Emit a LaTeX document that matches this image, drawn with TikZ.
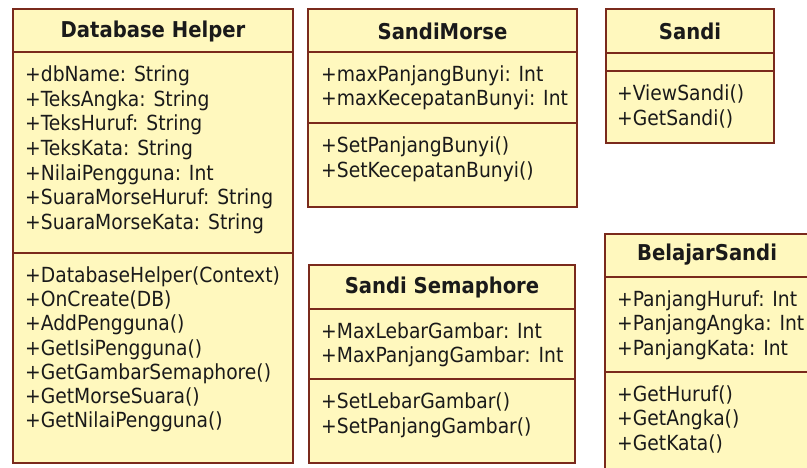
\documentclass[tikz,border=0pt]{standalone}
\usepackage{fontspec}
\setmainfont{DejaVu Sans Condensed}
\definecolor{clsfill}{HTML}{FFF8BE}
\definecolor{clsline}{HTML}{7A2A1C}
\definecolor{clstext}{HTML}{1A1A1A}
\tikzset{
  clsbox/.style={draw=clsline, fill=clsfill, line width=1.8pt},
  clssep/.style={draw=clsline, line width=1.6pt},
  clsname/.style={font=\fontsize{21.8}{26}\selectfont\bfseries, text=clstext, inner sep=0pt},
  member/.style={font=\fontsize{20.8}{25}\selectfont, text=clstext, inner sep=0pt,
    anchor=west, text height=15.6pt, text depth=4.2pt},
}
\begin{document}
\begin{tikzpicture}[x=1pt, y=-1pt]
\useasboundingbox (0,0) rectangle (807,468);
\fill[white] (0,0) rectangle (807,468);
\clip (0,0) rectangle (807,468);

% Database Helper
\draw[clsbox] (13,9) rectangle (293,463);
\draw[clssep] (13,52) -- (293,52);
\draw[clssep] (13,253) -- (293,253);
\node[clsname] (dbname) at (153,31) {Database Helper};
\foreach \t [count=\i] in {+dbName: String, +TeksAngka: String, +TeksHuruf: String,
    +TeksKata: String, +NilaiPengguna: Int, +SuaraMorseHuruf: String, +SuaraMorseKata: String}
  \node[member] (dba\i) at (25,{51.5+24.6*\i}) {\t};
\foreach \t [count=\i] in {+DatabaseHelper(Context), +OnCreate(DB), +AddPengguna(),
    +GetIsiPengguna(), +GetGambarSemaphore(), +GetMorseSuara(), +GetNilaiPengguna()}
  \node[member] (dbm\i) at (25,{252.6+24.2*\i}) {\t};

% SandiMorse
\draw[clsbox] (308,9) rectangle (577,207);
\draw[clssep] (308,52) -- (577,52);
\draw[clssep] (308,123) -- (577,123);
\node[clsname] (smname) at (442.5,31) {SandiMorse};
\node[member] (sma1) at (321,75.5) {+maxPanjangBunyi: Int};
\node[member] (sma2) at (321,100) {+maxKecepatanBunyi: Int};
\node[member] (smm1) at (321,147) {+SetPanjangBunyi()};
\node[member] (smm2) at (321,171.5) {+SetKecepatanBunyi()};

% Sandi
\draw[clsbox] (606,9) rectangle (774,143);
\draw[clssep] (606,53) -- (774,53);
\draw[clssep] (606,71) -- (774,71);
\node[clsname] (sname) at (690,31) {Sandi};
\node[member] (sm1) at (617,95) {+ViewSandi()};
\node[member] (sm2) at (617,119.4) {+GetSandi()};

% Sandi Semaphore
\draw[clsbox] (309,265) rectangle (575,463);
\draw[clssep] (309,309) -- (575,309);
\draw[clssep] (309,379) -- (575,379);
\node[clsname] (ssname) at (442,287) {Sandi Semaphore};
\node[member] (ssa1) at (321,332.5) {+MaxLebarGambar: Int};
\node[member] (ssa2) at (321,357) {+MaxPanjangGambar: Int};
\node[member] (ssm1) at (321,403) {+SetLebarGambar()};
\node[member] (ssm2) at (321,427.5) {+SetPanjangGambar()};

% BelajarSandi (runs past the right and lower edges)
\draw[clsbox] (605,234) rectangle (840,500);
\draw[clssep] (605,277) -- (840,277);
\draw[clssep] (605,372) -- (840,372);
\node[clsname] (bsname) at (707,255) {BelajarSandi};
\node[member] (bsa1) at (617,300.5) {+PanjangHuruf: Int};
\node[member] (bsa2) at (617,325) {+PanjangAngka: Int};
\node[member] (bsa3) at (617,349.5) {+PanjangKata: Int};
\node[member] (bsm1) at (617,395.5) {+GetHuruf()};
\node[member] (bsm2) at (617,420) {+GetAngka()};
\node[member] (bsm3) at (617,444.5) {+GetKata()};
\end{tikzpicture}
\end{document}
